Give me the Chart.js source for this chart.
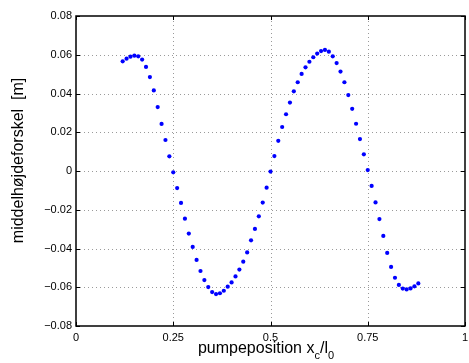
<!DOCTYPE html>
<html>
<head>
<meta charset="utf-8">
<script src="https://cdn.jsdelivr.net/npm/chart.js@4/dist/chart.umd.min.js"></script>
<style>
  body { margin: 0; background: #fff; }
  canvas { display: block; }
</style>
</head>
<body>
<canvas id="pumpChart" width="469" height="363"></canvas>
<script>
// pump position (x_c/l_0)
const positions = [
  0.12, 0.13, 0.14, 0.15, 0.16, 0.17, 0.18, 0.19, 0.20, 0.21,
  0.22, 0.23, 0.24, 0.25, 0.26, 0.27, 0.28, 0.29, 0.30, 0.31,
  0.32, 0.33, 0.34, 0.35, 0.36, 0.37, 0.38, 0.39, 0.40, 0.41,
  0.42, 0.43, 0.44, 0.45, 0.46, 0.47, 0.48, 0.49, 0.50, 0.51,
  0.52, 0.53, 0.54, 0.55, 0.56, 0.57, 0.58, 0.59, 0.60, 0.61,
  0.62, 0.63, 0.64, 0.65, 0.66, 0.67, 0.68, 0.69, 0.70, 0.71,
  0.72, 0.73, 0.74, 0.75, 0.76, 0.77, 0.78, 0.79, 0.80, 0.81,
  0.82, 0.83, 0.84, 0.85, 0.86, 0.87, 0.88
];

// mean height difference [m]
const heightDiff = [
  0.0566, 0.0580, 0.0590, 0.0595, 0.0592, 0.0575, 0.0537, 0.0485, 0.0416, 0.0330,
  0.0243, 0.0160, 0.0076, -0.0007, -0.0088, -0.0165, -0.0246, -0.0323, -0.0392, -0.0459,
  -0.0516, -0.0563, -0.0599, -0.0625, -0.0635, -0.0631, -0.0618, -0.0597, -0.0575, -0.0544,
  -0.0509, -0.0468, -0.0420, -0.0358, -0.0299, -0.0234, -0.0163, -0.0086, -0.0003, 0.0077,
  0.0156, 0.0227, 0.0293, 0.0353, 0.0411, 0.0458, 0.0501, 0.0535, 0.0564, 0.0587,
  0.0606, 0.0619, 0.0625, 0.0616, 0.0592, 0.0557, 0.0513, 0.0458, 0.0392, 0.0321,
  0.0244, 0.0165, 0.0086, 0.0005, -0.0077, -0.0162, -0.0248, -0.0335, -0.0423, -0.0495,
  -0.0551, -0.0588, -0.0607, -0.0611, -0.0606, -0.0595, -0.0580
];

const xTicks = [0, 0.25, 0.5, 0.75, 1];
const yTicks = [-0.08, -0.06, -0.04, -0.02, 0, 0.02, 0.04, 0.06, 0.08];

const FONT = '"Liberation Sans", Arial, sans-serif';

const points = positions.map((x, i) => ({ x: x, y: heightDiff[i] }));

// matlab-ish box, dotted grid, inward ticks and the axis titles
const axesPlugin = {
  id: 'axesPlugin',
  beforeDatasetsDraw(chart) {
    const c = chart.ctx;
    const a = chart.chartArea;
    const xs = chart.scales.x, ys = chart.scales.y;
    c.save();
    c.strokeStyle = '#9a9a9a';
    c.lineWidth = 1;
    c.setLineDash([1, 3]);
    xTicks.slice(1, -1).forEach(v => {
      const px = Math.round(xs.getPixelForValue(v)) + 0.5;
      c.beginPath(); c.moveTo(px, a.bottom); c.lineTo(px, a.top); c.stroke();
    });
    yTicks.slice(1, -1).forEach(v => {
      const py = Math.round(ys.getPixelForValue(v)) + 0.5;
      c.beginPath(); c.moveTo(a.left, py); c.lineTo(a.right, py); c.stroke();
    });
    c.restore();
  },
  afterDraw(chart) {
    const c = chart.ctx;
    const a = chart.chartArea;
    const xs = chart.scales.x, ys = chart.scales.y;
    c.save();
    c.strokeStyle = '#000';
    c.lineWidth = 1.5;
    c.strokeRect(a.left, a.top, a.right - a.left, a.bottom - a.top);
    c.lineWidth = 1;
    xTicks.forEach(v => {
      const px = Math.round(xs.getPixelForValue(v)) + 0.5;
      c.beginPath();
      c.moveTo(px, a.bottom); c.lineTo(px, a.bottom - 4);
      c.moveTo(px, a.top); c.lineTo(px, a.top + 4);
      c.stroke();
    });
    yTicks.forEach(v => {
      const py = Math.round(ys.getPixelForValue(v)) + 0.5;
      c.beginPath();
      c.moveTo(a.left, py); c.lineTo(a.left + 4, py);
      c.moveTo(a.right, py); c.lineTo(a.right - 4, py);
      c.stroke();
    });

    // x title with subscripts: pumpeposition x_c/l_0
    c.fillStyle = '#000';
    c.textBaseline = 'alphabetic';
    c.textAlign = 'left';
    const parts = [
      ['pumpeposition x', 16, 0],
      ['c', 11, 6],
      ['/l', 16, 0],
      ['0', 11, 6]
    ];
    let total = 0;
    parts.forEach(p => { c.font = p[1] + 'px ' + FONT; total += c.measureText(p[0]).width; });
    let tx = 266 - total / 2;
    parts.forEach(p => {
      c.font = p[1] + 'px ' + FONT;
      c.fillText(p[0], tx, 353 + p[2]);
      tx += c.measureText(p[0]).width;
    });

    // y title
    c.translate(23, 160.5);
    c.rotate(-Math.PI / 2);
    c.textAlign = 'center';
    c.font = '16px ' + FONT;
    c.fillText('middelhøjdeforskel  [m]', 0, 0);
    c.restore();
  }
};

new Chart(document.getElementById('pumpChart'), {
  type: 'scatter',
  data: {
    datasets: [{
      data: points,
      backgroundColor: '#0000ff',
      borderWidth: 0,
      pointRadius: 2.1,
      showLine: false
    }]
  },
  plugins: [axesPlugin],
  options: {
    responsive: false,
    devicePixelRatio: 1,
    animation: false,
    layout: { padding: { left: 0, right: 1, top: 16, bottom: 0 } },
    plugins: { legend: { display: false }, tooltip: { enabled: false } },
    scales: {
      x: {
        type: 'linear',
        min: 0, max: 1,
        afterBuildTicks: s => { s.ticks = xTicks.map(v => ({ value: v })); },
        afterFit: s => { s.height = 37; s.paddingLeft = 0; s.paddingRight = 0; },
        grid: { display: false, drawTicks: false },
        border: { display: false },
        ticks: {
          padding: 5,
          color: '#000',
          maxRotation: 0,
          autoSkip: false,
          font: { family: FONT, size: 11 },
          callback: v => String(+v.toFixed(2))
        }
      },
      y: {
        type: 'linear',
        min: -0.08, max: 0.08,
        afterBuildTicks: s => { s.ticks = yTicks.map(v => ({ value: v })); },
        afterFit: s => { s.width = 76; s.paddingTop = 0; s.paddingBottom = 0; },
        grid: { display: false, drawTicks: false },
        border: { display: false },
        ticks: {
          padding: 4,
          color: '#000',
          autoSkip: false,
          font: { family: FONT, size: 11 },
          callback: v => Math.abs(v) < 1e-9 ? '0' : v.toFixed(2).replace('-', '\u2212')
        }
      }
    }
  }
});
</script>
</body>
</html>
